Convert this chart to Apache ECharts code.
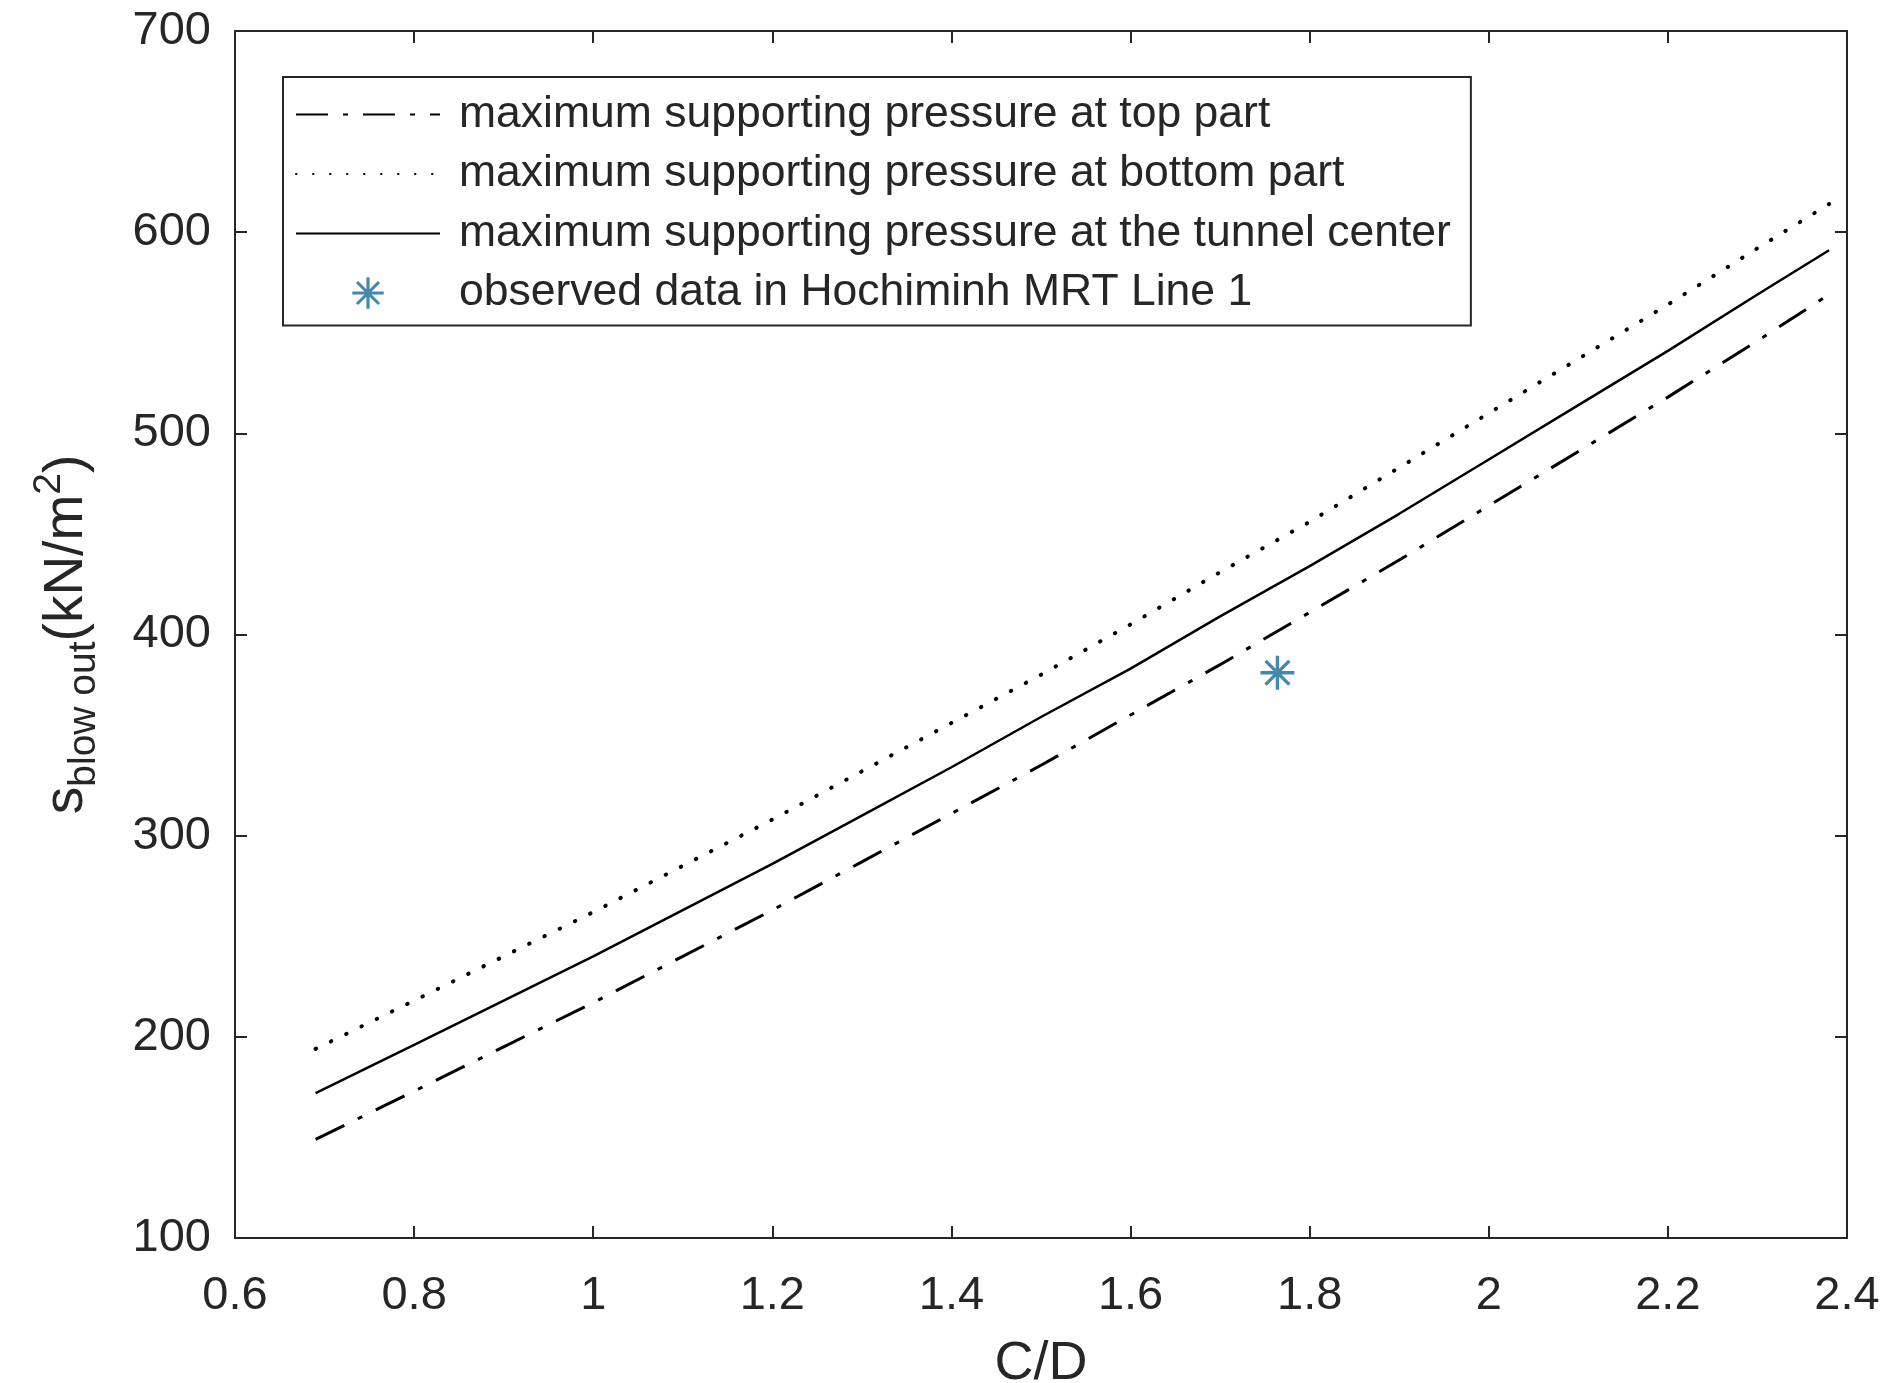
<!DOCTYPE html>
<html>
<head>
<meta charset="utf-8">
<script src="https://cdn.jsdelivr.net/npm/echarts@6/dist/echarts.min.js"></script>
<style>
html, body { margin: 0; padding: 0; background: #fff; }
#chart { width: 1886px; height: 1383px; }
</style>
</head>
<body>
<div id="chart"></div>
<script>
// C/D values along the curves
var cdValues = [0.69, 0.8, 0.9, 1.0, 1.1, 1.2, 1.3, 1.4, 1.5, 1.6, 1.7, 1.8, 1.9, 2.0, 2.1, 2.2, 2.3, 2.38];
// blow-out pressure (kN/m2)
var topPart = [149, 173, 195, 217, 240, 263, 287, 311, 335, 360, 385, 411, 437, 464, 491, 518, 546, 569];
var bottomPart = [194, 218, 240, 262, 285, 308, 332, 356, 380, 405, 431, 456, 483, 510, 537, 564, 592, 614];
var tunnelCenter = [172, 196, 218, 240, 263, 286, 310, 334, 359, 383, 409, 434, 460, 487, 514, 541, 569, 591];
var observed = [[1.764, 381]];

var names = [
    'maximum supporting pressure at top part',
    'maximum supporting pressure at bottom part',
    'maximum supporting pressure at the tunnel center',
    'observed data in Hochiminh MRT Line 1'
];

var starShape = 'M-10,-1L10,-1L10,1L-10,1Z M1,-10L1,10L-1,10L-1,-10Z ' +
    'M-6.3,-7.7L7.7,6.3L6.3,7.7L-7.7,-6.3Z M-7.7,6.3L6.3,-7.7L7.7,-6.3L-6.3,7.7Z';
var star = 'path://' + starShape;
// same star with a bit of empty room round it, for the legend
var starLegend = 'path://M-14,-14 M14,14 ' + starShape;

function pairs(xs, ys) {
    return xs.map(function (x, i) { return [x, ys[i]]; });
}

var ink = '#262626';
var font = 'Liberation Sans';
var noDot = { color: 'rgba(0,0,0,0)', borderWidth: 0 };

var dom = document.getElementById('chart');
var myChart = echarts.init(dom);

var frameAxis = {
    axisLine: { show: true, onZero: false, lineStyle: { color: ink, width: 2 } },
    axisTick: { show: true, inside: true, length: 12, lineStyle: { color: ink, width: 2 } },
    splitLine: { show: false }
};

var option = {
    backgroundColor: '#fff',
    animation: false,
    textStyle: { fontFamily: font },
    grid: { left: 235, right: 39, top: 31, bottom: 145, outerBoundsMode: 'none' },
    legend: {
        orient: 'vertical',
        left: 283,
        top: 77,
        itemWidth: 144,
        itemHeight: 44,
        itemGap: 14.5,
        padding: [15, 20, 10, 12],
        borderColor: ink,
        borderWidth: 2,
        backgroundColor: '#fff',
        textStyle: { fontSize: 44.5, color: ink, fontFamily: font, padding: [0, 0, 0, 14] },
        data: [
            { name: names[0], itemStyle: noDot },
            { name: names[1], itemStyle: noDot },
            { name: names[2], itemStyle: noDot },
            { name: names[3], icon: starLegend }
        ]
    },
    xAxis: [
        Object.assign({
            type: 'value', position: 'bottom',
            min: 0.6, max: 2.4, interval: 0.2,
            name: 'C/D', nameLocation: 'middle', nameGap: 99,
            nameTextStyle: { fontSize: 54, color: ink, fontFamily: font },
            axisLabel: { fontSize: 47, color: ink, margin: 35, fontFamily: font }
        }, frameAxis),
        Object.assign({
            type: 'value', position: 'top',
            min: 0.6, max: 2.4, interval: 0.2,
            axisLabel: { show: false }
        }, frameAxis)
    ],
    yAxis: [
        Object.assign({
            type: 'value', position: 'left',
            min: 100, max: 700, interval: 100,
            name: '{a|s}{b|blow out}{a|(kN/m}{c|2}{a|)}',
            nameLocation: 'middle', nameRotate: 90, nameGap: 131,
            nameTextStyle: {
                color: ink,
                rich: {
                    a: { fontSize: 55, lineHeight: 74, color: ink, fontFamily: font },
                    b: { fontSize: 39, lineHeight: 39, verticalAlign: 'bottom', color: ink, fontFamily: font },
                    c: { fontSize: 39, lineHeight: 39, verticalAlign: 'top', color: ink, fontFamily: font }
                }
            },
            axisLabel: { fontSize: 47, color: ink, margin: 24, fontFamily: font }
        }, frameAxis),
        Object.assign({
            type: 'value', position: 'right',
            min: 100, max: 700, interval: 100,
            axisLabel: { show: false }
        }, frameAxis)
    ],
    series: [
        {
            name: names[0], type: 'line', symbol: 'none',
            data: pairs(cdValues, topPart),
            lineStyle: { color: '#000', width: 3, type: [32, 15, 5, 15] }
        },
        {
            name: names[1], type: 'line', symbol: 'none',
            data: pairs(cdValues, bottomPart),
            lineStyle: { color: '#000', width: 4, type: [0.5, 16.5], cap: 'round' }
        },
        {
            name: names[2], type: 'line', symbol: 'none',
            data: pairs(cdValues, tunnelCenter),
            lineStyle: { color: '#000', width: 2.5, type: 'solid' }
        },
        {
            name: names[3], type: 'scatter',
            symbol: star, symbolSize: 34,
            itemStyle: { color: '#136b96' },
            data: observed
        }
    ]
};

myChart.setOption(option);
</script>
</body>
</html>
